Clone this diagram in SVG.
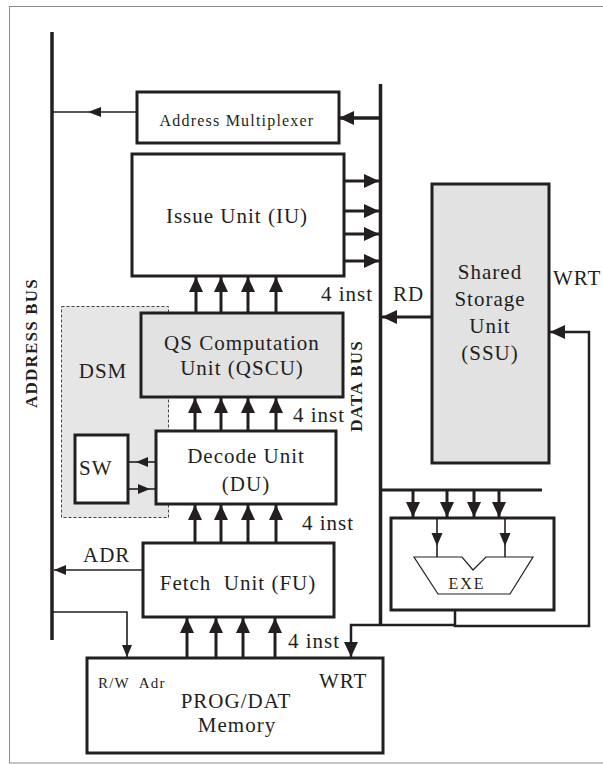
<svg xmlns="http://www.w3.org/2000/svg" width="603" height="764" viewBox="0 0 603 764">
<defs>
<style>
.box{fill:#fff;stroke:#231f20;stroke-width:3}
.gbox{fill:#e2e2e2;stroke:#231f20;stroke-width:3}
.bus{stroke:#231f20;stroke-width:3.5;fill:none;stroke-linecap:butt}
.thick{stroke:#231f20;stroke-width:3;fill:none}
.mid{stroke:#231f20;stroke-width:2.5;fill:none}
.thin{stroke:#231f20;stroke-width:1.6;fill:none}
.head{fill:#231f20;stroke:none}
.t{font-family:"Liberation Serif","Times New Roman",serif;font-size:21px;letter-spacing:1px;fill:#231f20}
.tc{text-anchor:middle}
.b{font-weight:bold;font-size:17px;letter-spacing:1.2px}
</style>
<marker id="big" markerUnits="userSpaceOnUse" viewBox="0 0 15 14" refX="15" refY="7" markerWidth="15" markerHeight="14" orient="auto">
<path d="M0,0 L15,7 L0,14 z" fill="#231f20"/>
</marker>
<marker id="small" markerUnits="userSpaceOnUse" viewBox="0 0 12 10" refX="12" refY="5" markerWidth="12" markerHeight="10" orient="auto">
<path d="M0,0 L12,5 L0,10 z" fill="#231f20"/>
</marker>
</defs>
<rect x="9.5" y="6.5" width="600" height="756.5" fill="#fff" stroke="#8a8a8a" stroke-width="1"/>

<g id="dsm">
<rect x="61.5" y="306.5" width="107" height="211" fill="#e6e6e6" stroke="#444" stroke-width="1" stroke-dasharray="3,2"/>
<text class="t tc" x="103" y="378">DSM</text>
</g>

<g id="address-bus">
<line class="bus" x1="52" y1="32" x2="52" y2="640"/>
<text class="t tc b" transform="translate(37,343) rotate(-90)">ADDRESS BUS</text>
</g>

<g id="data-bus">
<line class="bus" x1="380.5" y1="84" x2="380.5" y2="624"/>
<text class="t tc b" transform="translate(362,386) rotate(-90)">DATA BUS</text>
</g>

<g id="address-multiplexer">
<rect class="box" x="137" y="92" width="202" height="51"/>
<text class="t tc" x="237" y="126" style="font-size:16px;letter-spacing:1.2px">Address Multiplexer</text>
</g>

<g id="issue-unit">
<rect class="box" x="132" y="154" width="212" height="122"/>
<text class="t tc" x="237" y="223">Issue Unit (IU)</text>
</g>

<g id="qscu">
<rect class="gbox" x="141" y="313" width="202" height="84"/>
<text class="t tc" x="242" y="350">QS Computation</text>
<text class="t tc" x="242" y="375">Unit (QSCU)</text>
</g>

<g id="decode-unit">
<rect class="box" x="156" y="431" width="180" height="73"/>
<text class="t tc" x="246" y="463">Decode Unit</text>
<text class="t tc" x="246" y="491">(DU)</text>
</g>

<g id="sw">
<rect class="box" x="75" y="435" width="53" height="68"/>
<text class="t" x="79" y="475">SW</text>
</g>

<g id="fetch-unit">
<rect class="box" x="143" y="543" width="191" height="74"/>
<text class="t tc" x="238" y="590" xml:space="preserve">Fetch  Unit (FU)</text>
</g>

<g id="memory">
<rect class="box" x="87" y="658" width="296" height="95"/>
<text class="t" x="98" y="688" style="font-size:15px;letter-spacing:1.2px" xml:space="preserve">R/W  Adr</text>
<text class="t" x="319" y="688">WRT</text>
<text class="t tc" x="236" y="708">PROG/DAT</text>
<text class="t tc" x="237" y="732">Memory</text>
</g>

<g id="ssu">
<rect class="gbox" x="432" y="184" width="117" height="279"/>
<text class="t tc" x="490" y="279">Shared</text>
<text class="t tc" x="490" y="306">Storage</text>
<text class="t tc" x="490" y="333">Unit</text>
<text class="t tc" x="490" y="360">(SSU)</text>
</g>

<g id="exe">
<rect class="box" x="391" y="518" width="163" height="92"/>
<path class="thin" d="M414,557 L462,557 L473,570 L486,557 L533,557 L510,594 L438,594 Z" style="stroke-width:1.2"/>
<text class="t tc" x="467" y="589" style="font-size:16px;letter-spacing:2px">EXE</text>
</g>

<g id="connectors">
<!-- address mux to address bus -->
<line class="thin" x1="137" y1="112" x2="52" y2="112"/>
<polygon class="head" points="88,112 101,107 101,117"/>
<!-- data bus to address mux -->
<line class="bus" x1="380" y1="118" x2="339" y2="118" marker-end="url(#big)"/>
<!-- IU to data bus -->
<line class="thick" x1="344" y1="181" x2="379" y2="181" marker-end="url(#big)"/>
<line class="thick" x1="344" y1="211" x2="379" y2="211" marker-end="url(#big)"/>
<line class="thick" x1="344" y1="234" x2="379" y2="234" marker-end="url(#big)"/>
<line class="thick" x1="344" y1="261" x2="379" y2="261" marker-end="url(#big)"/>
<!-- QSCU to IU -->
<line class="thick" x1="196" y1="313" x2="196" y2="277" marker-end="url(#big)"/>
<line class="thick" x1="221" y1="313" x2="221" y2="277" marker-end="url(#big)"/>
<line class="thick" x1="248" y1="313" x2="248" y2="277" marker-end="url(#big)"/>
<line class="thick" x1="276" y1="313" x2="276" y2="277" marker-end="url(#big)"/>
<!-- DU to QSCU -->
<line class="thick" x1="195" y1="431" x2="195" y2="398" marker-end="url(#big)"/>
<line class="thick" x1="221" y1="431" x2="221" y2="398" marker-end="url(#big)"/>
<line class="thick" x1="248" y1="431" x2="248" y2="398" marker-end="url(#big)"/>
<line class="thick" x1="276" y1="431" x2="276" y2="398" marker-end="url(#big)"/>
<!-- FU to DU -->
<line class="thick" x1="195" y1="543" x2="195" y2="505" marker-end="url(#big)"/>
<line class="thick" x1="221" y1="543" x2="221" y2="505" marker-end="url(#big)"/>
<line class="thick" x1="248" y1="543" x2="248" y2="505" marker-end="url(#big)"/>
<line class="thick" x1="276" y1="543" x2="276" y2="505" marker-end="url(#big)"/>
<!-- Memory to FU -->
<line class="thick" x1="187" y1="658" x2="187" y2="618" marker-end="url(#big)"/>
<line class="thick" x1="216" y1="658" x2="216" y2="618" marker-end="url(#big)"/>
<line class="thick" x1="243" y1="658" x2="243" y2="618" marker-end="url(#big)"/>
<line class="thick" x1="275" y1="658" x2="275" y2="618" marker-end="url(#big)"/>
<!-- SSU RD to data bus -->
<line class="thick" x1="432" y1="317" x2="382" y2="317" marker-end="url(#big)"/>
<!-- bar to EXE -->
<line class="thick" x1="380" y1="490" x2="542" y2="490"/>
<line class="thick" x1="413" y1="490" x2="413" y2="517" marker-end="url(#big)"/>
<line class="thick" x1="447" y1="490" x2="447" y2="517" marker-end="url(#big)"/>
<line class="thick" x1="474" y1="490" x2="474" y2="517" marker-end="url(#big)"/>
<line class="thick" x1="499" y1="490" x2="499" y2="517" marker-end="url(#big)"/>
<!-- inside EXE -->
<line class="thin" x1="437" y1="518" x2="437" y2="557"/>
<polygon class="head" points="437,546 431.5,533 442.5,533"/>
<line class="thin" x1="505" y1="518" x2="505" y2="557"/>
<polygon class="head" points="505,546 499.5,533 510.5,533"/>
<!-- EXE WRT to SSU -->
<path class="mid" d="M455,610 V626 H589 V332 H550" marker-end="url(#big)"/>
<!-- EXE WRT to memory -->
<path class="mid" d="M455,625 H351 V657" marker-end="url(#big)"/>
<!-- ADR -->
<line class="thin" x1="143" y1="570" x2="54" y2="570" marker-end="url(#small)"/>
<!-- address bus to memory R/W -->
<path class="thin" d="M52,612 H127 V657" marker-end="url(#small)"/>
<!-- DU to SW -->
<line class="thin" x1="156" y1="462" x2="128" y2="462"/>
<polygon class="head" points="136,462 148,457 148,467"/>
<!-- SW to DU -->
<line class="thin" x1="128" y1="489" x2="156" y2="489"/>
<polygon class="head" points="150,489 138,484 138,494"/>
</g>

<g id="labels">
<text class="t" x="321" y="301">4 inst</text>
<text class="t" x="393" y="301">RD</text>
<text class="t" x="293" y="422">4 inst</text>
<text class="t" x="302" y="530">4 inst</text>
<text class="t" x="288" y="648">4 inst</text>
<text class="t" x="83" y="562">ADR</text>
<text class="t" x="553" y="285">WRT</text>
</g>
</svg>
